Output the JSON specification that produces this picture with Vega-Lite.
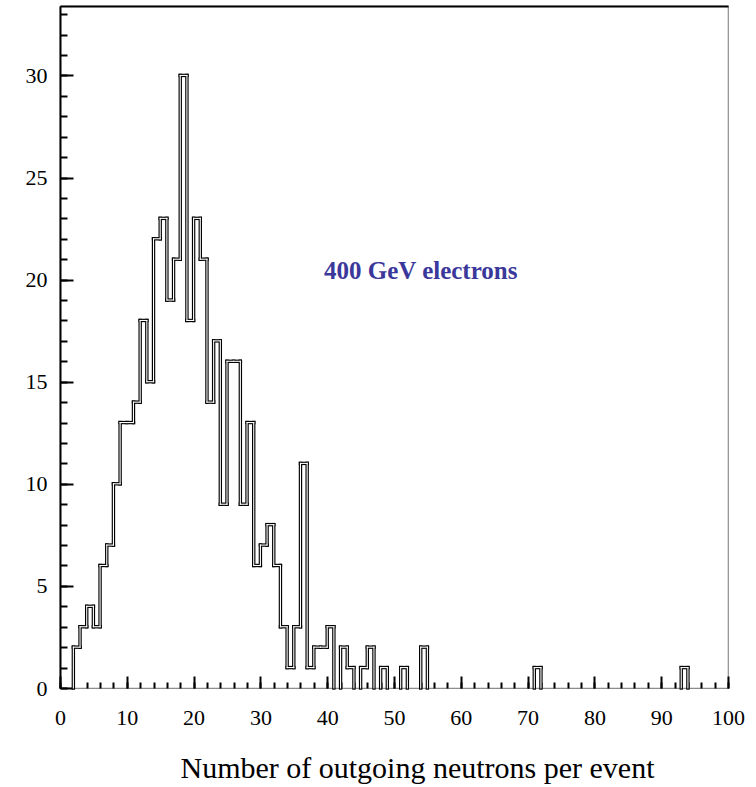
{
  "$schema": "https://vega.github.io/schema/vega-lite/v6.json",
  "width": 668,
  "height": 682,
  "autosize": {"type": "none"},
  "padding": {"left": 60, "top": 6, "right": 28, "bottom": 99},
  "background": "white",
  "config": {
    "view": {"stroke": "#8c8c8c", "strokeWidth": 1.2},
    "axis": {
      "labelFont": "Liberation Serif",
      "titleFont": "Liberation Serif",
      "labelColor": "black",
      "titleColor": "black",
      "tickColor": "black",
      "grid": false,
      "zindex": 1
    }
  },
  "data": {
    "values": [
      {"n": 0, "count": 0}, {"n": 1, "count": 0}, {"n": 2, "count": 2}, {"n": 3, "count": 3},
      {"n": 4, "count": 4}, {"n": 5, "count": 3}, {"n": 6, "count": 6}, {"n": 7, "count": 7},
      {"n": 8, "count": 10}, {"n": 9, "count": 13}, {"n": 10, "count": 13}, {"n": 11, "count": 14},
      {"n": 12, "count": 18}, {"n": 13, "count": 15}, {"n": 14, "count": 22}, {"n": 15, "count": 23},
      {"n": 16, "count": 19}, {"n": 17, "count": 21}, {"n": 18, "count": 30}, {"n": 19, "count": 18},
      {"n": 20, "count": 23}, {"n": 21, "count": 21}, {"n": 22, "count": 14}, {"n": 23, "count": 17},
      {"n": 24, "count": 9}, {"n": 25, "count": 16}, {"n": 26, "count": 16}, {"n": 27, "count": 9},
      {"n": 28, "count": 13}, {"n": 29, "count": 6}, {"n": 30, "count": 7}, {"n": 31, "count": 8},
      {"n": 32, "count": 6}, {"n": 33, "count": 3}, {"n": 34, "count": 1}, {"n": 35, "count": 3},
      {"n": 36, "count": 11}, {"n": 37, "count": 1}, {"n": 38, "count": 2}, {"n": 39, "count": 2},
      {"n": 40, "count": 3}, {"n": 41, "count": 0}, {"n": 42, "count": 2}, {"n": 43, "count": 1},
      {"n": 44, "count": 0}, {"n": 45, "count": 1}, {"n": 46, "count": 2}, {"n": 47, "count": 0},
      {"n": 48, "count": 1}, {"n": 49, "count": 0}, {"n": 50, "count": 0}, {"n": 51, "count": 1},
      {"n": 52, "count": 0}, {"n": 53, "count": 0}, {"n": 54, "count": 2}, {"n": 55, "count": 0},
      {"n": 56, "count": 0}, {"n": 57, "count": 0}, {"n": 58, "count": 0}, {"n": 59, "count": 0},
      {"n": 60, "count": 0}, {"n": 61, "count": 0}, {"n": 62, "count": 0}, {"n": 63, "count": 0},
      {"n": 64, "count": 0}, {"n": 65, "count": 0}, {"n": 66, "count": 0}, {"n": 67, "count": 0},
      {"n": 68, "count": 0}, {"n": 69, "count": 0}, {"n": 70, "count": 0}, {"n": 71, "count": 1},
      {"n": 72, "count": 0}, {"n": 73, "count": 0}, {"n": 74, "count": 0}, {"n": 75, "count": 0},
      {"n": 76, "count": 0}, {"n": 77, "count": 0}, {"n": 78, "count": 0}, {"n": 79, "count": 0},
      {"n": 80, "count": 0}, {"n": 81, "count": 0}, {"n": 82, "count": 0}, {"n": 83, "count": 0},
      {"n": 84, "count": 0}, {"n": 85, "count": 0}, {"n": 86, "count": 0}, {"n": 87, "count": 0},
      {"n": 88, "count": 0}, {"n": 89, "count": 0}, {"n": 90, "count": 0}, {"n": 91, "count": 0},
      {"n": 92, "count": 0}, {"n": 93, "count": 1}, {"n": 94, "count": 0}, {"n": 95, "count": 0},
      {"n": 96, "count": 0}, {"n": 97, "count": 0}, {"n": 98, "count": 0}, {"n": 99, "count": 0}
    ]
  },
  "transform": [
    {
      "window": [
        {"op": "lag", "field": "count", "as": "prev"},
        {"op": "lead", "field": "n", "as": "next"}
      ],
      "sort": [{"field": "n", "order": "ascending"}]
    }
  ],
  "layer": [
    {
      "transform": [{"filter": "datum.count > 0"}],
      "mark": {"type": "rule", "color": "black", "strokeWidth": 3.4, "strokeCap": "square"},
      "encoding": {
        "x": {
          "field": "n",
          "type": "quantitative",
          "scale": {"domain": [0, 100], "nice": false},
          "axis": {
            "orient": "bottom",
            "values": [0, 10, 20, 30, 40, 50, 60, 70, 80, 90, 100],
            "tickSize": -12,
            "tickWidth": 2,
            "domain": false,
            "labelFontSize": 22,
            "labelPadding": 31,
            "labelFlush": false,
            "labelOverlap": false,
            "title": "Number of outgoing neutrons per event",
            "titleFontSize": 30,
            "titleFontWeight": "normal",
            "titleAlign": "center",
            "titleBaseline": "middle",
            "titleX": 357,
            "titleY": 80
          }
        },
        "x2": {"field": "next"},
        "y": {
          "field": "count",
          "type": "quantitative",
          "scale": {"domain": [0, 33.4], "nice": false},
          "axis": {
            "orient": "left",
            "values": [0, 5, 10, 15, 20, 25, 30],
            "tickSize": -13,
            "tickWidth": 2,
            "domain": true,
            "domainColor": "black",
            "domainWidth": 2,
            "labelFontSize": 22,
            "labelPadding": 26,
            "labelFlush": false,
            "labelOverlap": false,
            "title": null
          }
        }
      }
    },
    {
      "transform": [{"filter": "datum.prev != null && datum.prev != datum.count"}],
      "mark": {"type": "rule", "color": "black", "strokeWidth": 3.4, "strokeCap": "square"},
      "encoding": {
        "x": {
          "field": "n",
          "type": "quantitative",
          "axis": {
            "orient": "bottom",
            "values": [0, 2, 4, 6, 8, 10, 12, 14, 16, 18, 20, 22, 24, 26, 28, 30, 32, 34, 36, 38, 40, 42, 44, 46, 48, 50, 52, 54, 56, 58, 60, 62, 64, 66, 68, 70, 72, 74, 76, 78, 80, 82, 84, 86, 88, 90, 92, 94, 96, 98, 100],
            "tickSize": -6,
            "tickWidth": 2,
            "domain": false,
            "labels": false,
            "title": null
          }
        },
        "y": {
          "field": "prev",
          "type": "quantitative",
          "axis": {
            "orient": "left",
            "values": [0, 1, 2, 3, 4, 5, 6, 7, 8, 9, 10, 11, 12, 13, 14, 15, 16, 17, 18, 19, 20, 21, 22, 23, 24, 25, 26, 27, 28, 29, 30, 31, 32, 33],
            "tickSize": -7,
            "tickWidth": 2,
            "domain": false,
            "labels": false,
            "title": null
          }
        },
        "y2": {"field": "count"}
      }
    },
    {
      "transform": [{"filter": "datum.count > 0"}],
      "mark": {"type": "rule", "color": "white", "strokeWidth": 1.1, "strokeCap": "square"},
      "encoding": {
        "x": {
          "field": "n",
          "type": "quantitative",
          "axis": {
            "orient": "top",
            "domain": true,
            "domainColor": "black",
            "domainWidth": 2,
            "ticks": false,
            "labels": false,
            "title": null
          }
        },
        "x2": {"field": "next"},
        "y": {"field": "count", "type": "quantitative", "axis": null}
      }
    },
    {
      "transform": [{"filter": "datum.prev != null && datum.prev != datum.count"}],
      "mark": {"type": "rule", "color": "white", "strokeWidth": 1.1, "strokeCap": "square"},
      "encoding": {
        "x": {"field": "n", "type": "quantitative", "axis": null},
        "y": {"field": "prev", "type": "quantitative", "axis": null},
        "y2": {"field": "count"}
      }
    },
    {
      "data": {"values": [{"x": 54, "y": 20.4, "label": "400 GeV electrons"}]},
      "mark": {
        "type": "text",
        "font": "Liberation Serif",
        "fontWeight": "bold",
        "fontSize": 25,
        "color": "#3b389b",
        "align": "center",
        "baseline": "middle"
      },
      "encoding": {
        "x": {"field": "x", "type": "quantitative", "axis": null},
        "y": {"field": "y", "type": "quantitative", "axis": null},
        "text": {"field": "label"}
      }
    }
  ],
  "resolve": {"axis": {"x": "independent", "y": "independent"}}
}
